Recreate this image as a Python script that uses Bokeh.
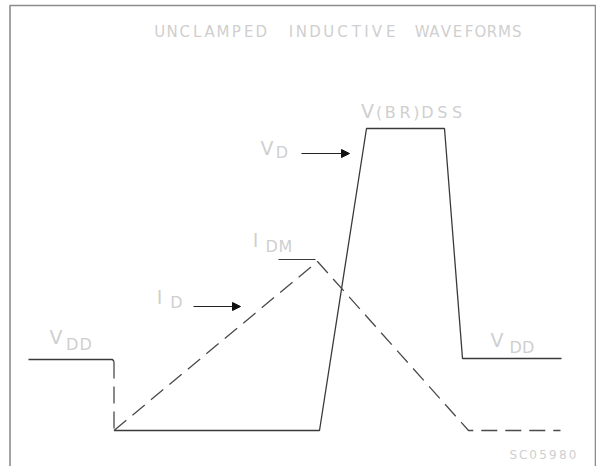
from bokeh.plotting import figure
from bokeh.models import Range1d, Arrow, NormalHead, ColumnDataSource
from bokeh.embed import file_html
from bokeh.resources import INLINE
from bokeh.core.properties import value

# ---- waveform data (time in arbitrary units, level in arbitrary units) ----
vdd_on_t = [28, 112, 113.5]          # V_DD before turn-on
vdd_on_v = [108, 108, 106]
turnon_t = [113.5, 113.5]            # drain falls at turn-on (dashed)
turnon_v = [106, 37]
vd_t = [113.5, 319, 366, 444, 462, 561]   # V_D (solid)
vd_v = [37, 37, 339, 339, 109, 109]
id_t = [113.5, 317, 468, 560]        # I_D (dashed)
id_v = [37, 206, 37, 37]
idm_t = [278, 315]                   # I_DM marker
idm_v = [208, 208]

# arrows: (x_start, x_end, level)
arrow_x0 = [301, 193]
arrow_x1 = [349, 240]
arrow_y = [314, 161]

# labels: text, left, right, baseline level, font size
label_text = ["V", "(BR)DSS", "V", "D", "I", "DM", "I", "D", "V", "DD", "V", "DD", "SC05980",
              "UNCLAMPED", "INDUCTIVE", "WAVEFORMS"]
label_left = [361, 375, 260, 276, 253, 265, 157, 170, 49, 65, 490, 509, 508, 153, 287, 415]
label_right = [373, 464, 273, 287, 257, 292, 161, 182, 62, 92, 503, 534, 577, 267, 397, 522]
label_base = [357, 355, 320, 315, 228, 221, 171, 165, 131, 123, 128, 120, 13, 436, 436, 436]
label_size = [19, 16, 19, 16, 19, 16, 19, 16, 19, 16, 19, 16, 12, 15, 15, 15]

W, H = 596, 466
p = figure(width=W, height=H, output_backend="svg", toolbar_location=None,
           x_range=Range1d(0, W), y_range=Range1d(467 - H, 467),
           x_axis_location=None, y_axis_location=None, min_border=0)
p.grid.visible = False
p.outline_line_color = None
p.background_fill_color = "white"
p.border_fill_color = "white"

# frame (open at bottom)
p.line([9.5, 9.5, 595, 595], [-20, 462, 462, -20], line_color="#8c8c8c", line_width=1.6)

solid = "#3a3a3a"
dashc = "#4a4a4a"
p.line(vdd_on_t, vdd_on_v, line_color=solid, line_width=1.3)
p.line(turnon_t, turnon_v, line_color=dashc, line_width=1.3, line_dash="17 8")
p.line(vd_t, vd_v, line_color=solid, line_width=1.3)
p.line(id_t, id_v, line_color=dashc, line_width=1.3, line_dash="16 8")
p.line(idm_t, idm_v, line_color=solid, line_width=1.2)

for x0, x1, y in zip(arrow_x0, arrow_x1, arrow_y):
    p.add_layout(Arrow(x_start=x0, y_start=y, x_end=x1, y_end=y,
                       line_color="#222222", line_width=1.2,
                       end=NormalHead(size=8, fill_color="#111111", line_color="#111111")))


def unit(c):
    if c in "I()1":
        return 0.5
    if c in "MW":
        return 1.15
    return 1.0


cx, cy, ct, cs = [], [], [], []
for t, l, r, b, s in zip(label_text, label_left, label_right, label_base, label_size):
    ws = [unit(c) for c in t]
    tot = sum(ws)
    sc = (r - l) / tot
    acc = 0.0
    for c, w in zip(t, ws):
        cx.append(l + sc * (acc + w / 2))
        cy.append(b)
        ct.append(c)
        cs.append(f"{s}px")
        acc += w

src = ColumnDataSource(dict(x=cx, y=cy, t=ct, s=cs))
p.text(x="x", y="y", text="t", source=src, text_font=value("DejaVu Sans"),
       text_font_size="s", text_color="#cfcfcf", text_align="center",
       text_baseline="alphabetic")

open("out.html", "w").write(file_html(p, INLINE))
